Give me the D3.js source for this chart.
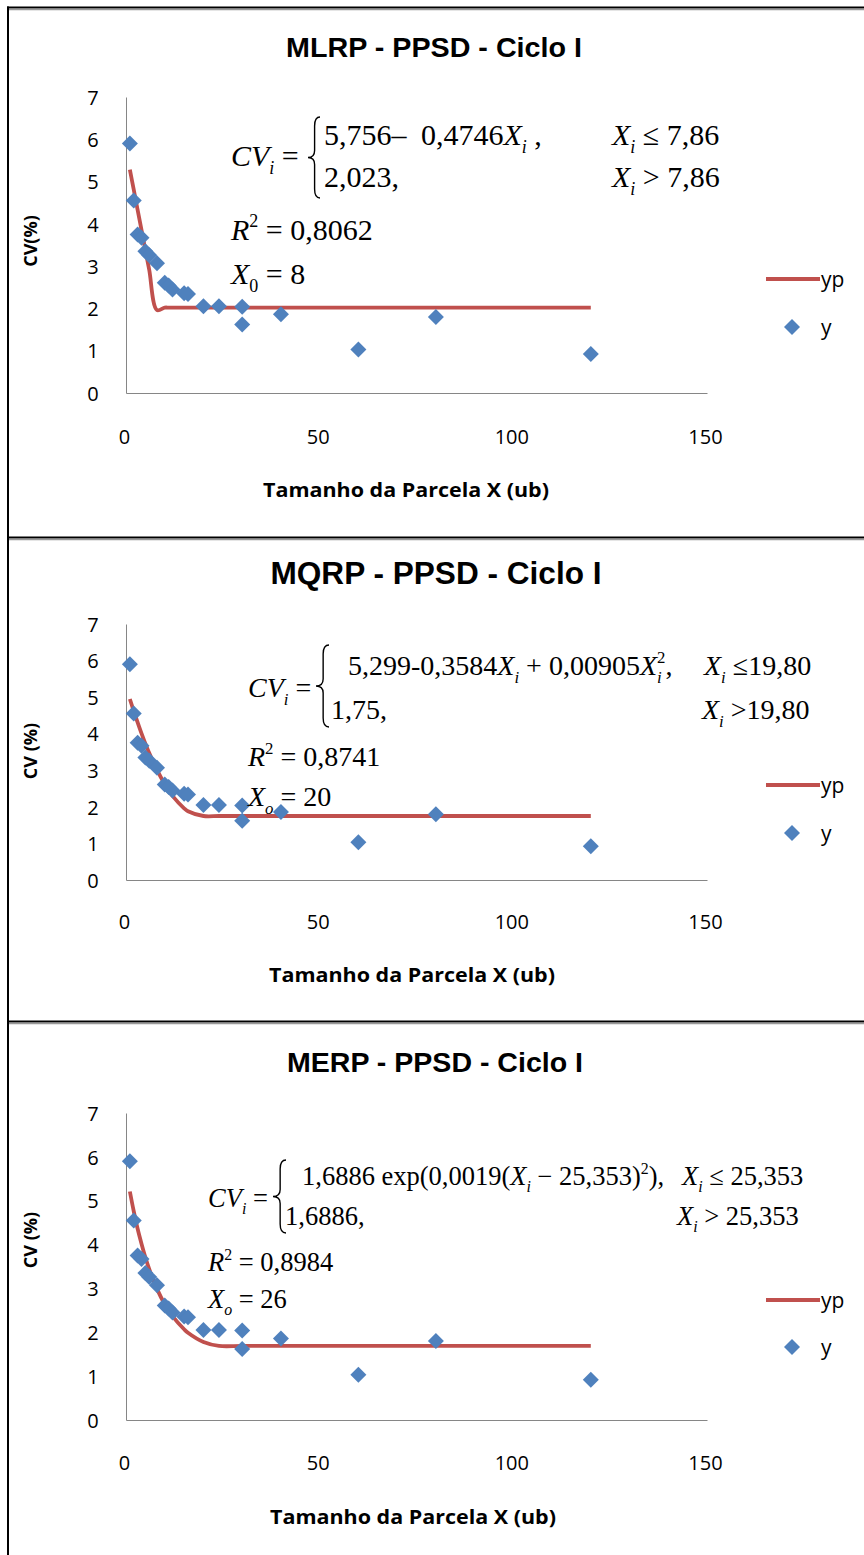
<!DOCTYPE html>
<html><head><meta charset="utf-8">
<script src="https://cdn.jsdelivr.net/npm/d3@7"></script>
<style>body{margin:0;background:#fff}svg{display:block}</style>
</head><body><svg id="c" width="864" height="1555"></svg>
<script>
// ---- data ----
const xObs = [1,2,3,4,5,6,8,10,11,12,15,16,20,24,30,30,40,60,80,120];
const yObs = [5.90,4.55,3.75,3.67,3.35,3.26,3.07,2.61,2.54,2.45,2.36,2.34,2.05,2.05,2.04,1.62,1.86,1.03,1.80,0.92];
const xFit = [1,2,3,4,5,6,8,10,11,12,15,16,20,24,30,40,60,80,120];
const ypMLRP = [5.28,4.81,4.33,3.86,3.38,2.91,1.96,2.02,2.02,2.02,2.02,2.02,2.02,2.02,2.02,2.02,2.02,2.02,2.02];
const ypMQRP = [4.95,4.62,4.31,4.01,3.73,3.47,3.01,2.62,2.45,2.30,1.96,1.88,1.75,1.75,1.75,1.75,1.75,1.75,1.75];
const ypMERP = [5.21,4.76,4.36,4.02,3.71,3.44,2.99,2.64,2.50,2.37,2.07,1.99,1.78,1.69,1.69,1.69,1.69,1.69,1.69];
const xTicks = [0,50,100,150];
const yTicks = [0,1,2,3,4,5,6,7];
const titles = ["MLRP - PPSD - Ciclo I","MQRP - PPSD - Ciclo I","MERP - PPSD - Ciclo I"];
const yTitles = ["CV(%)","CV (%)","CV (%)"];
const xTitle = "Tamanho da Parcela X (ub)";
const legendLabels = ["yp","y"];

// ---- drawing ----
const svg = d3.select("#c");
svg.append("rect").attr("width",864).attr("height",1555).attr("fill","#fff");
const RED = "#C0504D", BLUE = "#4F81BD", AXIS = "#868686";
const SANS = "'Open Sans', sans-serif";
const SERIF = "'Liberation Serif','Times New Roman',serif";

const xScale = d3.scaleLinear().domain([0,150]).range([126,707]);
const diamond = r => `M0,${-r}L${r},0L0,${r}L${-r},0Z`;

// frame lines
function hline(y){
  svg.append("line").attr("x1",7).attr("x2",864).attr("y1",y).attr("y2",y).attr("stroke","#000").attr("stroke-width",2.2);
  svg.append("line").attr("x1",9).attr("x2",864).attr("y1",y+2.2).attr("y2",y+2.2).attr("stroke","#999").attr("stroke-width",1.2);
}
hline(7.5); hline(537.5); hline(1021.5);
svg.append("line").attr("x1",8).attr("x2",8).attr("y1",6.5).attr("y2",1555).attr("stroke","#000").attr("stroke-width",2);

function eq(g, x, y, size, parts){
  const t = g.append("text").attr("x",x).attr("y",y).attr("font-family",SERIF).attr("font-size",size).attr("fill","#000");
  let shift = 0;
  parts.forEach(p => {
    const type = p[1] || "n";
    const ts = t.append("tspan").text(p[0]);
    let target = 0;
    if (type==="sub"||type==="isub") target = size*0.28;
    if (type==="sup") target = -size*0.42;
    ts.attr("dy", target - shift); shift = target;
    if (type==="i"||type==="isub") ts.attr("font-style","italic");
    if (type==="sub"||type==="isub"||type==="sup") ts.attr("font-size", size*0.6);
    if (p[2]) ts.attr("dx", p[2]);
  });
  return t;
}
function brace(g, x, y1, y2, w){
  const m = (y1+y2)/2, xm = x + w*0.55;
  g.append("path").attr("d",
    `M${x+w},${y1} Q${xm},${y1} ${xm},${y1+9} L${xm},${m-7} Q${xm},${m} ${x},${m} Q${xm},${m} ${xm},${m+7} L${xm},${y2-9} Q${xm},${y2} ${x+w},${y2}`)
    .attr("fill","none").attr("stroke","#000").attr("stroke-width",1.4);
}

const panels = [
  {title:titles[0], yTitle:yTitles[0], yp:ypMLRP, yRange:[393,97], titleY:47, titleX:434, titleW:296, titleSize:28,
   xLabY:437, xTitleY:490, xTitleX:406, yTitleY:241, legY:[279,327]},
  {title:titles[1], yTitle:yTitles[1], yp:ypMQRP, yRange:[880,624], titleY:573, titleX:436, titleW:331, titleSize:31,
   xLabY:922, xTitleY:975, xTitleX:412, yTitleY:751, legY:[785,833]},
  {title:titles[2], yTitle:yTitles[2], yp:ypMERP, yRange:[1420,1113], titleY:1062, titleX:435, titleW:296, titleSize:28,
   xLabY:1463, xTitleY:1517, xTitleX:413, yTitleY:1240, legY:[1300,1347]}
];

panels.forEach((P, k) => {
  const g = svg.append("g");
  const y = d3.scaleLinear().domain([0,7]).range(P.yRange);
  const y0 = y(0);

  g.append("text").attr("x",P.titleX).attr("y",P.titleY).attr("dy","0.36em").attr("text-anchor","middle")
    .attr("font-family","'Liberation Sans',Arial,sans-serif").attr("font-weight","bold").attr("font-size",P.titleSize)
    .attr("textLength",P.titleW).attr("lengthAdjust","spacingAndGlyphs").text(P.title);

  const ya = g.append("g").attr("transform",`translate(${xScale(0)},0)`)
    .call(d3.axisLeft(y).tickValues(yTicks).tickSize(0).tickSizeOuter(0).tickFormat(d3.format("d")));
  ya.select(".domain").attr("stroke",AXIS);
  ya.selectAll("text").attr("font-family",SANS).attr("font-size",20).attr("fill","#000").attr("text-anchor","middle").attr("x",-33).attr("dy","0.36em");

  const xa = g.append("g").attr("transform",`translate(0,${y0})`)
    .call(d3.axisBottom(xScale).tickValues(xTicks).tickSize(0).tickSizeOuter(0).tickFormat(d3.format("d")));
  xa.select(".domain").attr("stroke",AXIS);
  xa.selectAll("text").attr("font-family",SANS).attr("font-size",20).attr("fill","#000")
    .attr("y",P.xLabY - y0).attr("dy","0.36em").attr("dx",-2);

  g.append("text").attr("x",P.xTitleX).attr("y",P.xTitleY).attr("dy","0.36em").attr("text-anchor","middle")
    .attr("font-family",SANS).attr("font-weight","bold").attr("font-size",19)
    .attr("textLength",286).attr("lengthAdjust","spacingAndGlyphs").text(xTitle);
  g.append("text").attr("transform",`translate(31,${P.yTitleY}) rotate(-90)`).attr("dy","0.36em").attr("text-anchor","middle")
    .attr("font-family",SANS).attr("font-weight","bold").attr("font-size",18).text(P.yTitle);

  const line = d3.line().x((d,i)=>xScale(xFit[i])).y(d=>y(d)).curve(d3.curveCatmullRom.alpha(0.5));
  g.append("path").datum(P.yp).attr("d",line).attr("fill","none").attr("stroke",RED).attr("stroke-width",3.8);

  g.selectAll(".pt").data(yObs).join("path").attr("class","pt")
    .attr("transform",(d,i)=>`translate(${xScale(xObs[i])},${y(d)})`).attr("d",diamond(8)).attr("fill",BLUE);

  g.append("line").attr("x1",766).attr("x2",820).attr("y1",P.legY[0]).attr("y2",P.legY[0]).attr("stroke",RED).attr("stroke-width",3.8);
  g.append("text").attr("x",821).attr("y",P.legY[0]).attr("dy","0.36em").attr("font-family",SANS).attr("font-size",21).text(legendLabels[0]);
  g.append("path").attr("transform",`translate(792,${P.legY[1]})`).attr("d",diamond(8)).attr("fill",BLUE);
  g.append("text").attr("x",821).attr("y",P.legY[1]).attr("dy","0.36em").attr("font-family",SANS).attr("font-size",21).text(legendLabels[1]);

  P.g = g;
});

// ---- equations ----
{ const g = panels[0].g, s = 30;
  eq(g,231,166,s,[["CV","i"],["i","isub"],[" =","n"]]);
  brace(g,308,117,198,12);
  eq(g,324,145,s,[["5,756–"]]);
  eq(g,421,145,s,[["0,4746"],["X","i"],["i","isub"],[" ,"]]);
  eq(g,612,145,s,[["X","i"],["i","isub"],[" ≤ 7,86"]]);
  eq(g,324,187,s,[["2,023,"]]);
  eq(g,612,187,s,[["X","i"],["i","isub"],[" > 7,86"]]);
  eq(g,231,240,s,[["R","i"],["2","sup"],[" = 0,8062"]]);
  eq(g,231,284,s,[["X","i"],["0","sub"],[" = 8"]]);
}
{ const g = panels[1].g, s = 28;
  eq(g,248,697,s,[["CV","i"],["i","isub"],[" =","n"]]);
  brace(g,316,645,727,13);
  eq(g,348,675,s,[["5,299-0,3584"],["X","i"],["i","isub"],[" +  0,00905"],["X","i"],["i","isub"],["2","sup",-4.7],[","]]);
  eq(g,704,675,s,[["X","i"],["i","isub"],[" ≤19,80"]]);
  eq(g,331,719,s,[["1,75,"]]);
  eq(g,702,719,s,[["X","i"],["i","isub"],[" >19,80"]]);
  eq(g,248,766,s,[["R","i"],["2","sup"],[" = 0,8741"]]);
  eq(g,248,806,s,[["X","i"],["o","isub"],[" = 20"]]);
}
{ const g = panels[2].g, s = 26.5;
  eq(g,208,1207,s,[["CV","i"],["i","isub"],[" =","n"]]);
  brace(g,273,1160,1233,13);
  eq(g,302,1185,s,[["1,6886 exp(0,0019("],["X","i"],["i","isub"],[" −  25,353)"],["2","sup"],["),"]]);
  eq(g,682,1185,s,[["X","i"],["i","isub"],[" ≤ 25,353"]]);
  eq(g,285,1225,s,[["1,6886,"]]);
  eq(g,677,1225,s,[["X","i"],["i","isub"],[" > 25,353"]]);
  eq(g,208,1271,s,[["R","i"],["2","sup"],[" = 0,8984"]]);
  eq(g,208,1308,s,[["X","i"],["o","isub"],[" = 26"]]);
}
</script></body></html>
